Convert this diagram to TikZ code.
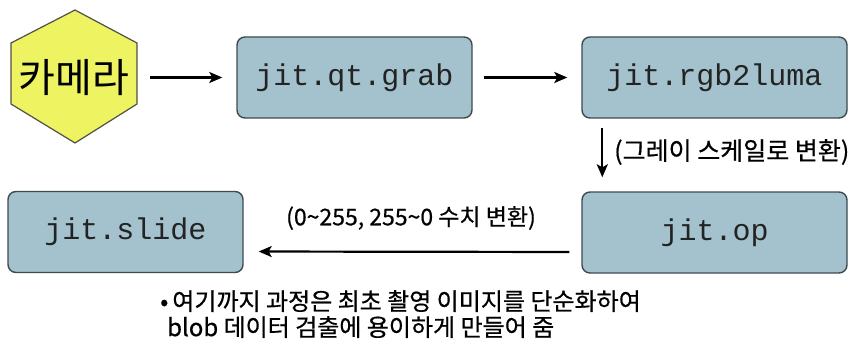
\documentclass[tikz,border=0pt]{standalone}
\usepackage{fontspec}
\setmainfont{Noto Sans CJK KR}[FakeBold=0.6]
\newfontfamily\camfont{Noto Sans CJK KR}
\setmonofont{Liberation Mono}
\usetikzlibrary{arrows.meta}
\definecolor{boxfill}{RGB}{164,194,205}
\definecolor{boxline}{RGB}{62,74,80}
\definecolor{hexfill}{RGB}{238,243,98}
\definecolor{hexline}{RGB}{80,80,70}
\definecolor{codetext}{RGB}{35,35,35}
\tikzset{
  jitbox/.style={draw=boxline, fill=boxfill, line width=1.4pt, rounded corners=8pt,
    minimum width=235pt, minimum height=81pt, inner sep=0pt, text=codetext,
    font=\fontsize{30}{30}\selectfont\ttfamily},
  flow/.style={line width=2.2pt, -{Stealth[length=13pt,width=11pt,inset=3pt]}},
  note/.style={inner sep=0pt}
}
\begin{document}
\begin{tikzpicture}[x=1pt, y=-1pt]
  \useasboundingbox (0,0) rectangle (851,345);
  % camera hexagon
  \draw[fill=hexfill, draw=hexline, line width=1.2pt]
    (75,10) -- (137,43) -- (137,104) -- (75,143) -- (11,104) -- (11,43) -- cycle;
  \node[minimum width=126pt, minimum height=133pt, inner sep=0pt,
        font=\fontsize{40}{40}\camfont] (cam) at (74,77.5) {카메라};
  % processing blocks
  \node[jitbox] (grab) at (354.5,77.5) {jit.qt.grab};
  \node[jitbox, minimum width=265pt] (luma) at (714.5,77.5) {jit.rgb2luma};
  \node[jitbox, minimum width=265pt] (op) at (714.5,232.5) {jit.op};
  \node[jitbox] (slide) at (125.5,232) {jit.slide};
  % connectors
  \draw[flow, shorten <=13pt, shorten >=14pt] (cam) -- (grab);
  \draw[flow, shorten <=11pt, shorten >=14pt] (grab) -- (luma);
  \draw[flow, shorten <=9pt, shorten >=14pt]
    ([xshift=21pt]luma.south west) -- ([xshift=21pt]op.north west);
  \draw[flow, shorten <=12pt, shorten >=15pt]
    ([yshift=-19.5pt]op.west) -- ([yshift=-19.5pt]slide.east);
  % labels
  \node[note, anchor=west, font=\fontsize{25}{25}\selectfont] (graylbl) at (614,152)
    {(그레이 스케일로 변환)};
  \node[note, font=\fontsize{23}{23}\selectfont] (rangelbl) at (411,218)
    {(0\textasciitilde255, 255\textasciitilde0 수치 변환)};
  \node[note, anchor=north west, align=left, font=\fontsize{24}{26}\selectfont] (summary) at (160,290)
    {•\hspace{4pt}여기까지 과정은 최초 촬영 이미지를 단순화하여\\
     \hspace{7pt}blob 데이터 검출에 용이하게 만들어 줌};
\end{tikzpicture}
\end{document}
